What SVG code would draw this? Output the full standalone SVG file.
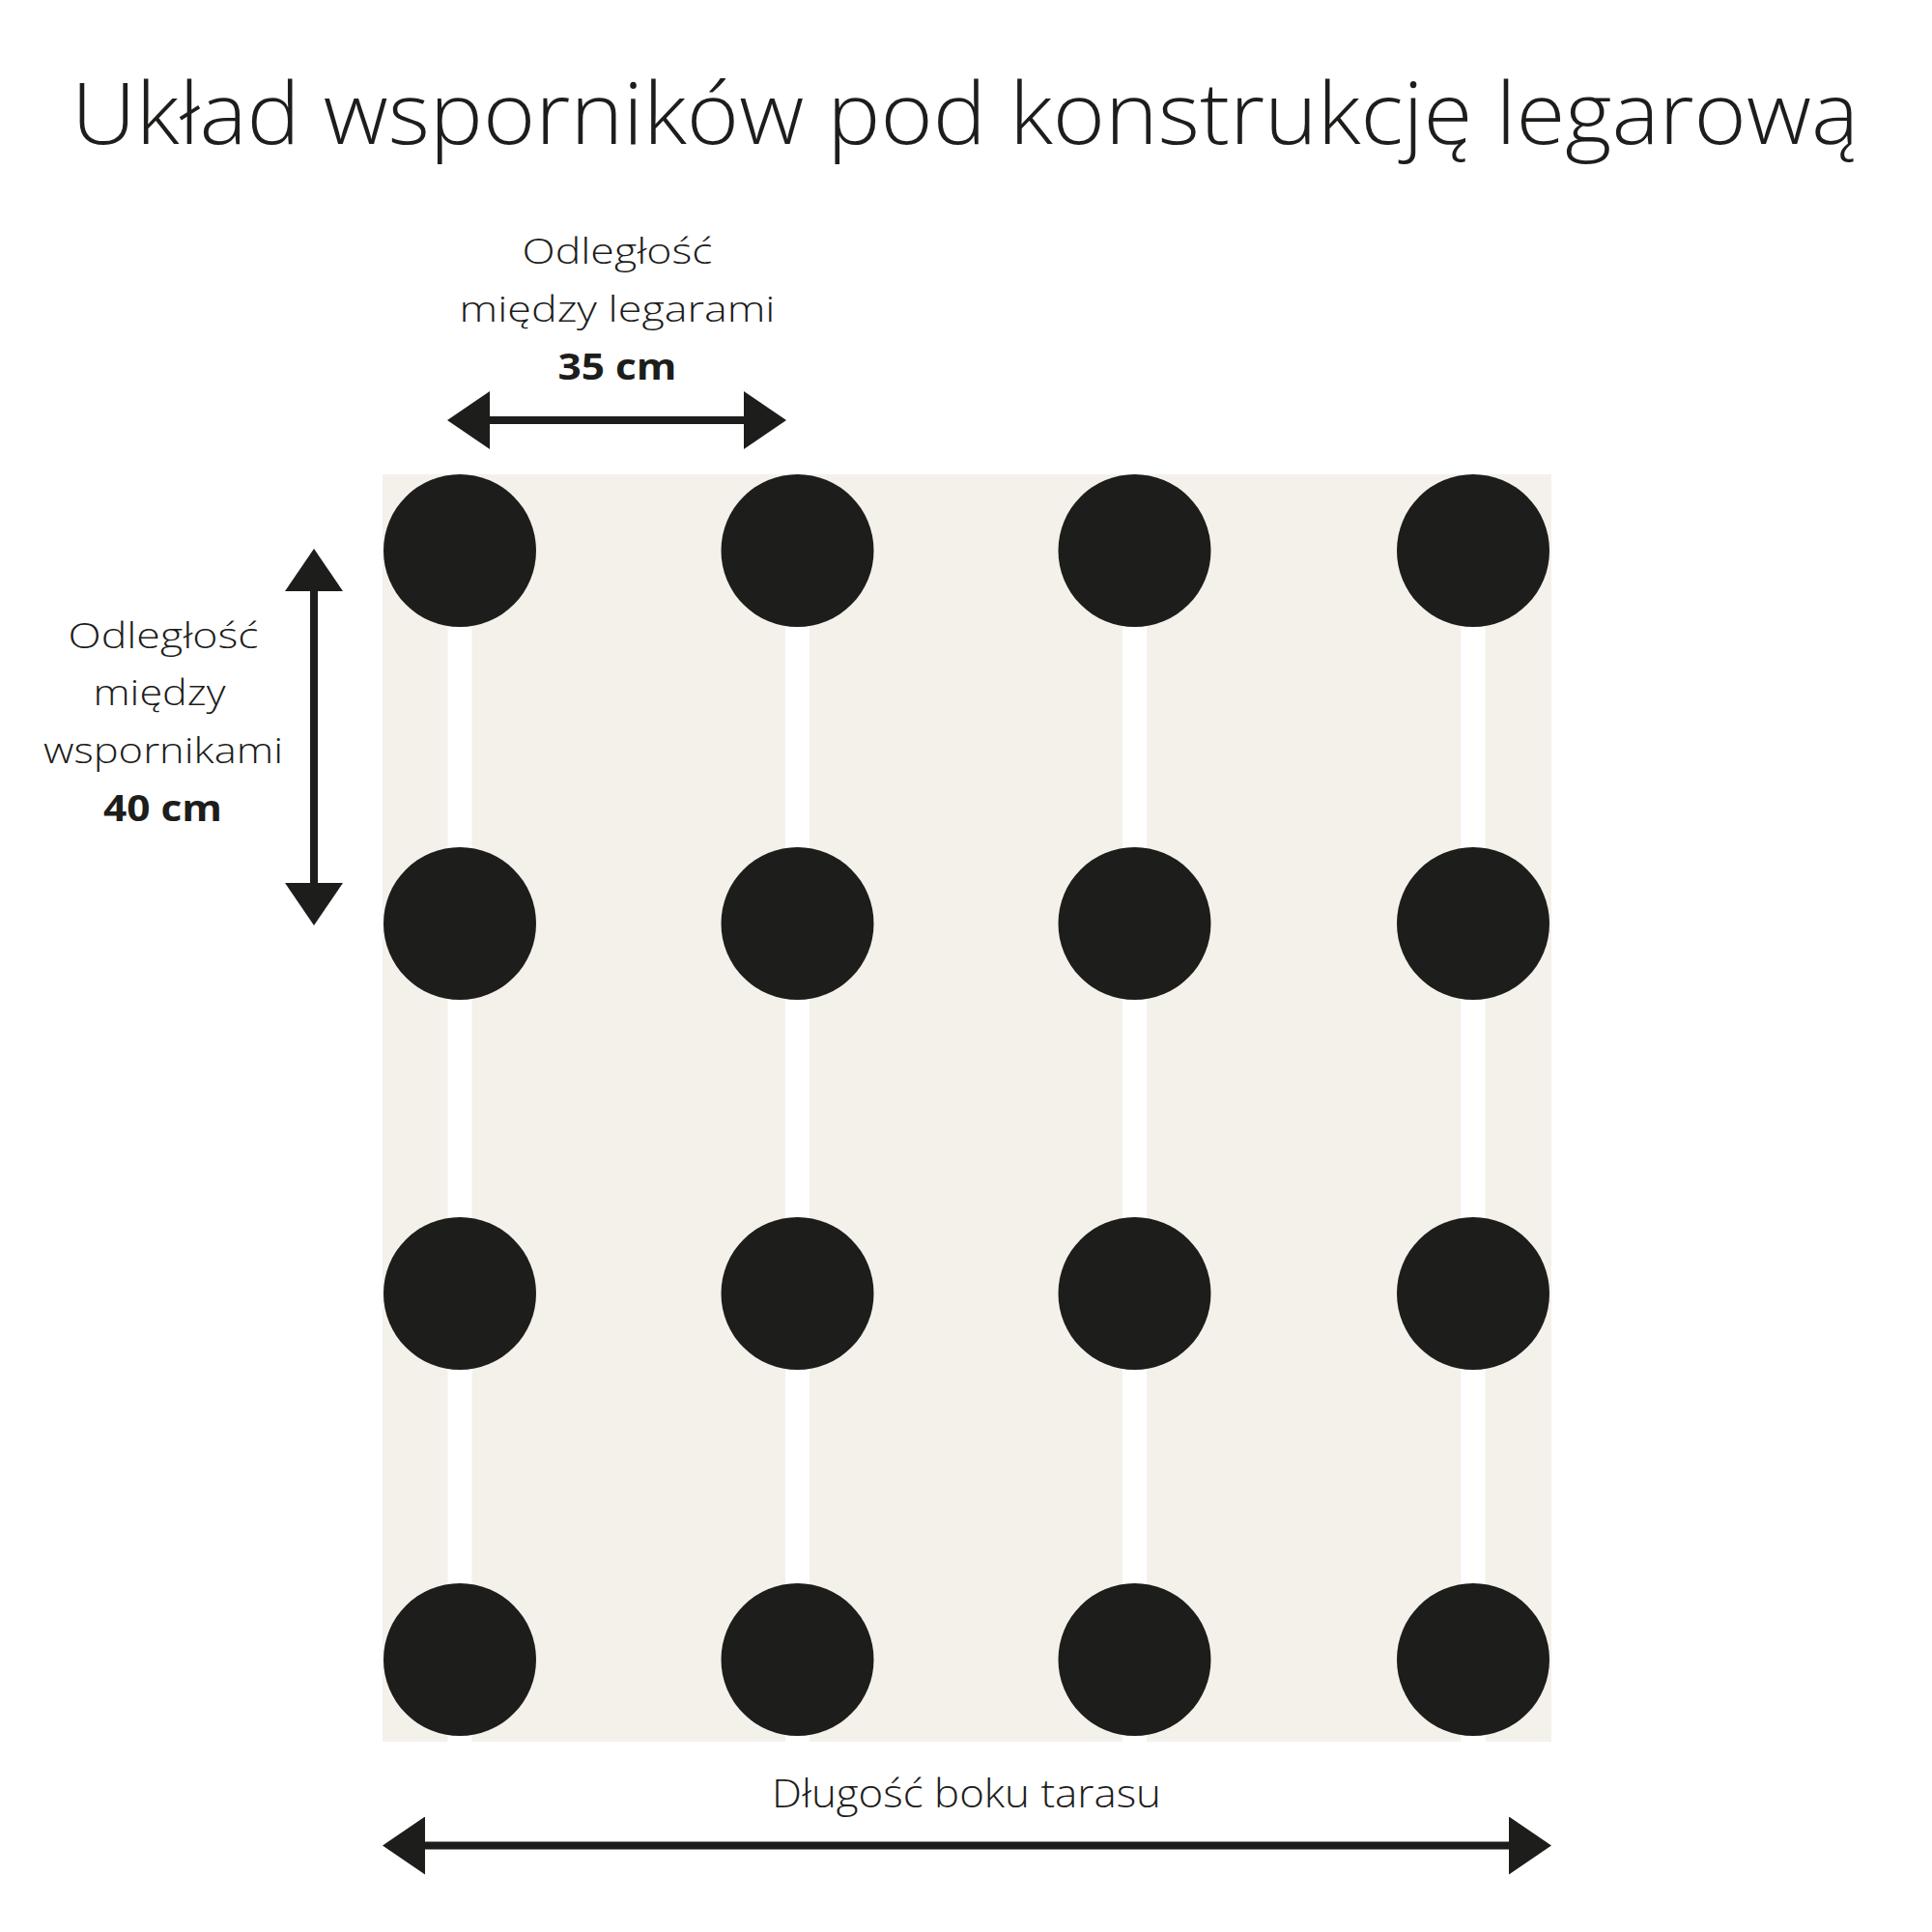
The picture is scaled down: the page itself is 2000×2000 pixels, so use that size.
<svg xmlns="http://www.w3.org/2000/svg" width="2000" height="2000" viewBox="0 0 2000 2000">
  <style>
    .t { font-family: "Open Sans", "Lato", "Liberation Sans", sans-serif; fill: #1d1d1b; }
    .light { font-weight: 300; }
    .bold { font-weight: 700; }
    .sup { fill: #1d1d1b; }
    .joist { fill: #ffffff; }
    .dim { stroke: #1d1d1b; stroke-width: 8; fill: none; marker-start: url(#arr); marker-end: url(#arr); }
  </style>
  <defs>
    <marker id="arr" markerUnits="userSpaceOnUse" markerWidth="44" markerHeight="60" viewBox="0 0 44 60" refX="38" refY="30" orient="auto-start-reverse">
      <path d="M0,0 L44,30 L0,60 Z" fill="#1d1d1b"/>
    </marker>
  </defs>
  <rect width="2000" height="2000" fill="#ffffff"/>

  <g id="title">
    <text class="t light" x="74" y="149" font-size="88" textLength="1850" lengthAdjust="spacingAndGlyphs">Układ wsporników pod konstrukcję legarową</text>
  </g>

  <g id="terrace">
    <rect x="396" y="491" width="1210" height="1312" fill="#f4f1eb"/>
    <rect class="joist" x="463.5" y="491" width="25" height="1312"/>
    <rect class="joist" x="813" y="491" width="25" height="1312"/>
    <rect class="joist" x="1162" y="491" width="25" height="1312"/>
    <rect class="joist" x="1512.5" y="491" width="25" height="1312"/>
  </g>

  <g id="supports">
    <g id="row1">
      <circle class="sup" cx="476" cy="570" r="79"/>
      <circle class="sup" cx="825.5" cy="570" r="79"/>
      <circle class="sup" cx="1174.5" cy="570" r="79"/>
      <circle class="sup" cx="1525" cy="570" r="79"/>
    </g>
    <g id="row2">
      <circle class="sup" cx="476" cy="956" r="79"/>
      <circle class="sup" cx="825.5" cy="956" r="79"/>
      <circle class="sup" cx="1174.5" cy="956" r="79"/>
      <circle class="sup" cx="1525" cy="956" r="79"/>
    </g>
    <g id="row3">
      <circle class="sup" cx="476" cy="1339" r="79"/>
      <circle class="sup" cx="825.5" cy="1339" r="79"/>
      <circle class="sup" cx="1174.5" cy="1339" r="79"/>
      <circle class="sup" cx="1525" cy="1339" r="79"/>
    </g>
    <g id="row4">
      <circle class="sup" cx="476" cy="1718" r="79"/>
      <circle class="sup" cx="825.5" cy="1718" r="79"/>
      <circle class="sup" cx="1174.5" cy="1718" r="79"/>
      <circle class="sup" cx="1525" cy="1718" r="79"/>
    </g>
  </g>

  <g id="connectors">
    <line class="dim" x1="469" y1="435" x2="808" y2="435"/>
    <line class="dim" x1="325" y1="574" x2="325" y2="952"/>
    <line class="dim" x1="402" y1="1910.5" x2="1600" y2="1910.5"/>
  </g>

  <g id="label-joists">
    <text class="t light" x="639" y="273" font-size="37" text-anchor="middle" textLength="197" lengthAdjust="spacingAndGlyphs">Odległość</text>
    <text class="t light" x="639" y="333" font-size="37" text-anchor="middle" textLength="327" lengthAdjust="spacingAndGlyphs">między legarami</text>
    <text class="t bold" x="639" y="393" font-size="37" text-anchor="middle" textLength="123" lengthAdjust="spacingAndGlyphs">35 cm</text>
  </g>

  <g id="label-supports">
    <text class="t light" x="169" y="670.5" font-size="37" text-anchor="middle" textLength="197" lengthAdjust="spacingAndGlyphs">Odległość</text>
    <text class="t light" x="165" y="730" font-size="37" text-anchor="middle" textLength="137" lengthAdjust="spacingAndGlyphs">między</text>
    <text class="t light" x="169" y="790" font-size="37" text-anchor="middle" textLength="248" lengthAdjust="spacingAndGlyphs">wspornikami</text>
    <text class="t bold" x="168.5" y="850" font-size="37" text-anchor="middle" textLength="123" lengthAdjust="spacingAndGlyphs">40 cm</text>
  </g>

  <g id="label-length">
    <text class="t light" x="1000.5" y="1871" font-size="41" text-anchor="middle" textLength="403" lengthAdjust="spacingAndGlyphs">Długość boku tarasu</text>
  </g>
</svg>
